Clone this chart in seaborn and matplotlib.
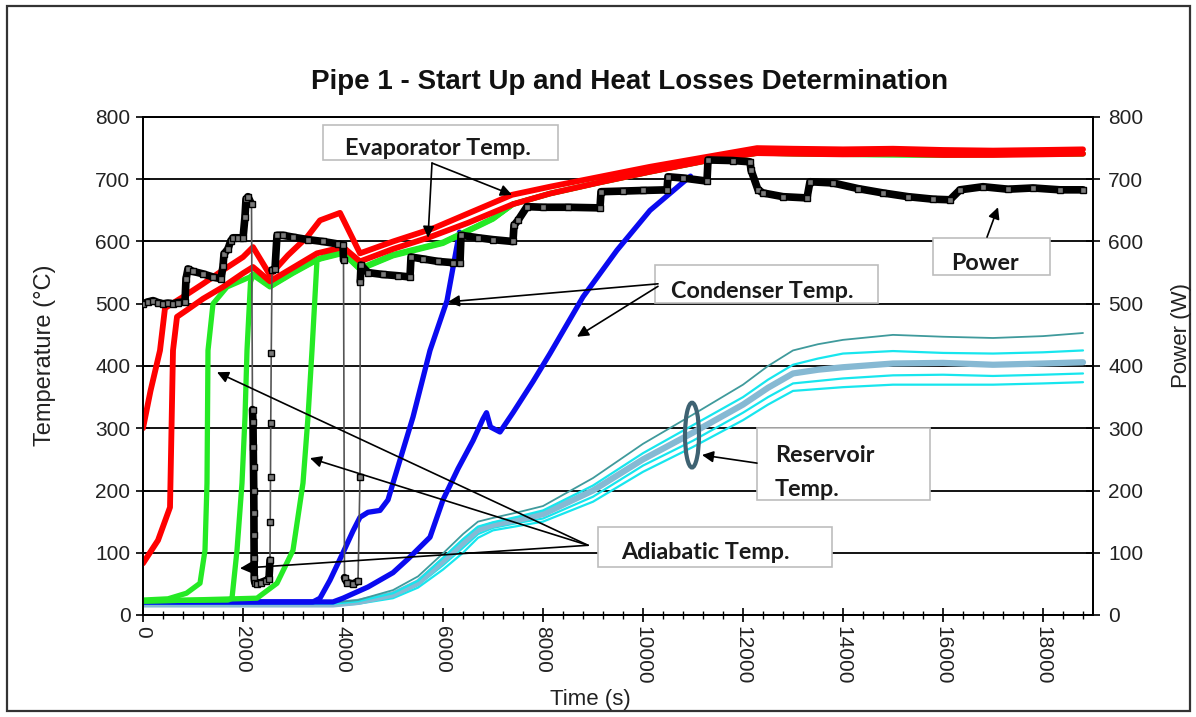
import numpy as np
import pandas as pd
import matplotlib
matplotlib.use("Agg")
import matplotlib.pyplot as plt
import seaborn as sns
from matplotlib.patches import Rectangle, Ellipse
from matplotlib.ticker import MultipleLocator

# ---------------- data ----------------
evap_a_t = [0, 150, 340, 440, 800, 1200, 1600, 2000, 2200, 2540, 2900, 3280, 3540, 3940, 4340,
            5000, 5800, 6500, 7380, 8140, 9140, 10140, 11280, 12280, 13000, 14000, 15000, 16000,
            17000, 18000, 18800]
evap_a_T = [300, 360, 425, 493, 511, 532, 554, 575, 591, 546, 578, 607, 634, 646, 581,
            600, 621, 645, 675, 688, 704, 720, 736, 750, 749, 748, 749, 747, 746, 747, 748]

evap_b_t = [0, 300, 540, 600, 680, 880, 1200, 1600, 2000, 2200, 2540, 3000, 3480, 4000, 4340,
            5000, 5700, 6500, 7400, 8140, 9140, 10140, 11280, 12280, 13000, 14000, 15000, 16000,
            17000, 18000, 18800]
evap_b_T = [83, 120, 173, 425, 479, 490, 508, 527, 549, 559, 536, 558, 581, 591, 568,
            588, 606, 630, 660, 677, 695, 712, 730, 742, 741, 740, 741, 739, 739, 740, 741]

adia1_t = [0, 500, 870, 1140, 1240, 1280, 1300, 1400, 1680, 2140, 2200, 2540, 3000, 3500, 4000,
           4340, 5000, 6000, 7000, 7400, 8140, 9140, 10140, 11280, 12280, 14000, 16000, 18800]
adia1_T = [24, 26, 35, 51, 104, 212, 425, 500, 527, 543, 548, 528, 550, 572, 582,
           556, 578, 598, 637, 660, 677, 695, 712, 730, 742, 740, 739, 741]

adia2_t = [0, 1700, 1780, 1880, 1980, 2040, 2080, 2150, 2200, 2540, 3000, 3500, 4000, 4340, 5000,
           6000, 7000, 7400, 8140, 9140, 10140, 11280, 12280, 14000, 16000, 18800]
adia2_T = [23, 24, 27, 104, 212, 318, 425, 535, 546, 527, 549, 571, 581, 555, 577,
           597, 636, 660, 677, 695, 712, 730, 742, 740, 739, 741]

adia3_t = [0, 2280, 2680, 3000, 3200, 3300, 3380, 3480, 3700, 4000, 4340, 5000, 6000, 7000, 7400,
           8140, 9140, 10140, 11280, 12280, 14000, 16000, 18800]
adia3_T = [22, 27, 51, 104, 212, 318, 425, 570, 578, 583, 557, 579, 599, 637, 660,
           677, 695, 712, 730, 742, 740, 739, 741]

cond1_t = [0, 3400, 3540, 3740, 4000, 4200, 4340, 4500, 4740, 4900, 5000, 5200, 5400, 5740, 6080,
           6250, 6330]
cond1_T = [21, 21, 27, 56, 100, 135, 157, 165, 168, 185, 212, 265, 318, 425, 505, 580, 615]

cond2_t = [0, 3800, 4000, 4500, 5000, 5300, 5740, 6000, 6300, 6600, 6800, 6870, 6950, 7140, 7400,
           7800, 8140, 8800, 9480, 10140, 10800, 10950]
cond2_T = [21, 21, 27, 45, 68, 90, 125, 185, 235, 280, 315, 325, 302, 294, 325,
           375, 420, 511, 586, 650, 695, 705]

res_t = [0, 3800, 4300, 5000, 5500, 6000, 6400, 6700, 7000, 7500, 8000, 9000, 10000, 11000, 12000,
         12500, 13000, 13500, 14000, 15000, 16000, 17000, 18000, 18800]
res1_T = [20, 20, 24, 40, 62, 99, 130, 150, 156, 165, 175, 220, 275, 322, 370,
          400, 425, 435, 442, 450, 447, 445, 448, 453]
res2_T = [18, 18, 22, 35, 55, 92, 122, 142, 149, 158, 168, 208, 260, 305, 350,
          378, 402, 412, 420, 424, 421, 420, 422, 425]
res3_T = [17, 17, 21, 33, 52, 87, 116, 137, 145, 153, 162, 200, 250, 293, 338,
          365, 388, 394, 398, 404, 405, 402, 404, 406]
res4_T = [16, 16, 20, 30, 48, 80, 108, 130, 140, 148, 155, 190, 240, 280, 325,
          350, 372, 376, 380, 385, 386, 384, 386, 388]
res5_T = [15, 15, 18, 27, 44, 73, 100, 124, 136, 143, 150, 182, 230, 270, 313,
          338, 360, 363, 366, 370, 370, 370, 372, 374]

power_t = [0, 100, 200, 300, 400, 500, 600, 700, 840,
           860, 900, 1000, 1200, 1400, 1560,
           1600, 1620, 1700, 1750, 1800, 1900, 2000,
           2040, 2060, 2100, 2170,
           2190, 2200, 2205, 2210, 2215, 2218, 2220, 2223, 2225, 2235, 2280, 2350, 2450, 2520,
           2540, 2545, 2550, 2555, 2565, 2580,
           2640, 2680, 2800, 3000, 3300, 3600, 3900, 4000,
           4010, 4030, 4080, 4200, 4300,
           4340, 4345, 4360, 4500, 4800, 5100, 5340,
           5360, 5600, 5900, 6200, 6340,
           6360, 6700, 7000, 7400,
           7420, 7500, 7680, 8000, 8500, 9140,
           9160, 9600, 10000, 10480,
           10500, 10800, 11280,
           11300, 11800, 12140,
           12160, 12300, 12400, 12800, 13280,
           13340, 13800, 14300, 14800,
           15300, 15800, 16140, 16340, 16800, 17300, 17800, 18340, 18800]
power_W = [500, 503, 505, 502, 500, 501, 500, 502, 503,
           540, 556, 552, 548, 543, 540,
           560, 580, 588, 600, 606, 606, 605,
           640, 668, 672, 660,
           330, 310, 270, 238, 200, 164, 128, 92, 60, 52, 50, 52, 55, 58,
           88, 149, 222, 308, 421, 554,
           556, 610, 610, 607, 603, 600, 596, 594,
           570, 60, 52, 50, 54,
           222, 535, 562, 550, 547, 545, 543,
           575, 572, 568, 566, 565,
           610, 606, 603, 600,
           626, 634, 656, 655, 655, 654,
           680, 681, 682, 683,
           704, 702, 697,
           731, 730, 728,
           715, 683, 678, 672, 670,
           696, 694, 685, 678,
           672, 668, 667, 683, 688, 684, 686, 683, 683]

y_ticks = [0, 100, 200, 300, 400, 500, 600, 700, 800]
x_ticks = [0, 2000, 4000, 6000, 8000, 10000, 12000, 14000, 16000, 18000]

title = "Pipe 1 - Start Up and Heat Losses Determination"

# ---------------- figure ----------------
sns.set_theme(style="white")
plt.rcParams["font.family"] = ["Liberation Sans", "DejaVu Sans"]

W, H = 1196, 717
fig = plt.figure(figsize=(W / 100, H / 100), dpi=100)
ax = fig.add_axes([143 / W, 1 - 615 / H, 950 / W, 498 / H])


def line(axis, t, v, color, lw, z, **kw):
    sns.lineplot(x=t, y=v, ax=axis, color=color, lw=lw, sort=False,
                 estimator=None, zorder=z, legend=False, **kw)


# reservoir (cyan family)
line(ax, res_t, res5_T, "#17e6ee", 1.6, 2)
line(ax, res_t, res4_T, "#17e6ee", 1.6, 2)
line(ax, res_t, res3_T, "#86b9d3", 4.5, 2)
line(ax, res_t, res2_T, "#17e6ee", 1.6, 2)
line(ax, res_t, res1_T, "#3f9a9c", 1.3, 2)
# condenser
line(ax, cond2_t, cond2_T, "#0a0af0", 3.8, 3)
line(ax, cond1_t, cond1_T, "#0a0af0", 3.8, 3)
# adiabatic
for tt, vv in [(adia1_t, adia1_T), (adia2_t, adia2_T), (adia3_t, adia3_T)]:
    line(ax, tt, vv, "#25ea25", 3.8, 4)
# evaporator
line(ax, evap_b_t, evap_b_T, "#ff0000", 4.2, 5)
line(ax, evap_a_t, evap_a_T, "#ff0000", 4.2, 5)

ax.set_xlim(0, 19000)
ax.set_ylim(0, 800)
ax.set_xticks(x_ticks)
ax.set_xticklabels([str(v) for v in x_ticks])
ax.xaxis.set_minor_locator(MultipleLocator(400))
ax.set_yticks(y_ticks)
ax.set_yticklabels([str(v) for v in y_ticks])
ax.tick_params(axis="x", which="major", direction="inout", length=10, width=1.2,
               labelsize=15, pad=3, colors="black", labelcolor="#222", bottom=True)
ax.tick_params(axis="x", which="minor", direction="inout", length=6, width=1.0,
               bottom=True, colors="black")
ax.tick_params(axis="y", which="major", direction="inout", length=10, width=1.2,
               labelsize=15, pad=4, colors="black", labelcolor="#222", left=True)
plt.setp(ax.get_xticklabels(), rotation=270, ha="center", va="top")
ax.yaxis.grid(True, color="black", lw=1.3)
ax.xaxis.grid(False)
ax.set_axisbelow(True)
for s in ax.spines.values():
    s.set_color("black")
    s.set_linewidth(1.3)
ax.set_xlabel("")
ax.set_ylabel("")

# power on secondary axis
ax2 = ax.twinx()
pt = np.array(power_t, dtype=float)
pw = np.array(power_W, dtype=float)
seg = np.concatenate([[0], np.cumsum(np.abs(np.diff(pw)) > 60)])
line(ax2, power_t, power_W, "#555555", 1.2, 3)
dfp = pd.DataFrame({"t": pt, "w": pw, "seg": seg})
sns.lineplot(data=dfp, x="t", y="w", units="seg", estimator=None, sort=False, ax=ax2,
             color="black", lw=5.5, zorder=4, legend=False)
sns.lineplot(x=power_t, y=power_W, ax=ax2, sort=False, estimator=None, lw=0,
             marker="s", markersize=5, markerfacecolor="#7a7a7a", markeredgecolor="black",
             markeredgewidth=1.0, zorder=5, legend=False)
ax2.set_ylim(0, 800)
ax2.set_xlim(0, 19000)
ax2.set_yticks(y_ticks)
ax2.set_yticklabels([str(v) for v in y_ticks])
ax2.tick_params(axis="y", which="major", direction="inout", length=10, width=1.2,
                labelsize=15, pad=6, colors="black", labelcolor="#222", right=True)
ax2.grid(False)
ax2.set_xlabel("")
ax2.set_ylabel("")
for s in ax2.spines.values():
    s.set_color("black")
    s.set_linewidth(1.3)

# ---------------- annotations ----------------
afont = dict(family=["Lato", "DejaVu Sans"], weight="bold", size=16.8, color="#1a1a1a")
arrow = dict(arrowstyle="-|>", color="black", lw=1.2, mutation_scale=17,
             shrinkA=0, shrinkB=0)


def box(x0, y0, x1, y1):
    ax2.add_patch(Rectangle((x0, y0), x1 - x0, y1 - y0, facecolor="white",
                            edgecolor="#bdbdbd", lw=1.2, zorder=8, clip_on=False))


def arr(start, end):
    ax2.annotate("", xy=end, xytext=start, arrowprops=arrow, zorder=9,
                 annotation_clip=False)


# Evaporator
box(3600, 731, 8300, 787)
ax2.text(5900, 749, "Evaporator Temp.", ha="center", va="center", zorder=10, **afont)
arr((5780, 726), (5700, 606))
arr((5780, 726), (7380, 675))

# Condenser
box(10240, 501, 14700, 562)
ax2.text(12380, 519, "Condenser Temp.", ha="center", va="center", zorder=10, **afont)
arr((10300, 532), (6100, 503))
arr((10300, 528), (8680, 447))

# Power
box(15800, 546, 18140, 606)
ax2.text(16840, 565, "Power", ha="center", va="center", zorder=10, **afont)
arr((16880, 607), (17100, 655))

# Reservoir
box(12280, 185, 15740, 300)
ax2.text(12640, 257, "Reservoir", ha="left", va="center", zorder=10, **afont)
ax2.text(12640, 201, "Temp.", ha="left", va="center", zorder=10, **afont)
arr((12280, 244), (11180, 257))
ax2.add_patch(Ellipse((10980, 289), width=280, height=104, fill=False,
                      edgecolor="#3e6272", lw=3, zorder=9))

# Adiabatic
box(9100, 77, 13780, 141)
ax2.text(11240, 100, "Adiabatic Temp.", ha="center", va="center", zorder=10, **afont)
arr((8900, 112), (1480, 390))
arr((8900, 112), (3340, 252))
arr((8900, 112), (1940, 75))

# ---------------- texts ----------------
fig.text(630 / W, 1 - 82 / H, title, ha="center", va="center", fontsize=20,
         fontweight="bold", color="#111111")
fig.text(45 / W, 1 - 355 / H, "Temperature (°C)", rotation=90, ha="center", va="center",
         fontsize=17, color="#222")
fig.text(1181 / W, 1 - 335 / H, "Power (W)", rotation=90, ha="center", va="center",
         fontsize=16, color="#222")
fig.text(590 / W, 1 - 700 / H, "Time (s)", ha="center", va="center", fontsize=16,
         color="#222", zorder=20)

# outer frame
fig.patches.append(Rectangle((7 / W, 6 / H), (1190 - 7) / W, (711 - 6) / H,
                             transform=fig.transFigure, fill=False,
                             edgecolor="#333333", lw=1.6))

fig.savefig("out.png", dpi=100, facecolor="white")
